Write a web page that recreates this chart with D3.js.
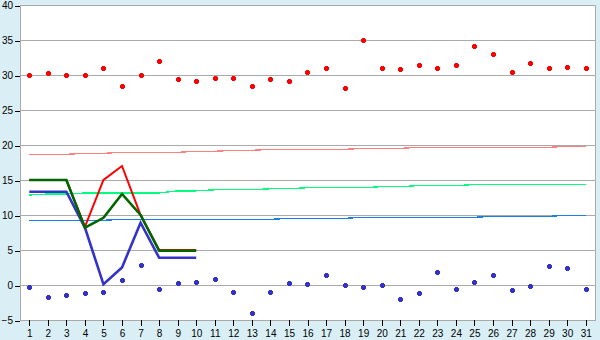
<!DOCTYPE html>
<html>
<head>
<meta charset="utf-8">
<script src="https://cdn.jsdelivr.net/npm/d3@7"></script>
<style>
  html, body { margin: 0; padding: 0; background: #d9eff5; }
  svg { display: block; }
</style>
</head>
<body>
<div class="chart"></div>
<script>
// 날짜 (x축)
const days = [1, 2, 3, 4, 5, 6, 7, 8, 9, 10, 11, 12, 13, 14, 15, 16, 17, 18, 19, 20, 21, 22, 23, 24, 25, 26, 27, 28, 29, 30, 31];
// y축 눈금
const yTicks = [-5, 0, 5, 10, 15, 20, 25, 30, 35, 40];

// 점 (빨강 / 파랑)
const redDots = [30, 30.3, 30, 30, 31, 28.4, 30, 32, 29.4, 29.1, 29.5, 29.5, 28.5, 29.4, 29.2, 30.4, 31, 28.1, 35, 31,
  30.8, 31.4, 31, 31.4, 34.2, 33, 30.4, 31.7, 31, 31.1, 31];
const blueDots = [-0.3, -1.75, -1.45, -1.2, -1.05, 0.7, 2.8, -0.6, 0.25, 0.4, 0.8, -1.05, -4.05, -1.05, 0.25, 0.1, 1.5, -0.05, -0.3, -0.05,
  -2.05, -1.2, 1.8, -0.5, 0.4, 1.4, -0.75, -0.2, 2.65, 2.4, -0.6];

// 가는 선 (1~31일)
const pinkLine = [18.67, 18.67, 18.67, 18.81, 18.81, 18.95, 18.95, 18.95, 18.95, 19.1, 19.1, 19.24, 19.24, 19.38, 19.38, 19.38, 19.38, 19.38,
  19.52, 19.52, 19.52, 19.67, 19.67, 19.67, 19.67, 19.67, 19.67, 19.67, 19.67, 19.81, 19.81];
const mintLine = [12.86, 13.0, 13.0, 13.14, 13.14, 13.14, 13.14, 13.14, 13.45, 13.45, 13.6, 13.6, 13.6, 13.75, 13.75, 13.9, 13.9, 13.9, 13.9,
  14.05, 14.05, 14.2, 14.2, 14.2, 14.35, 14.35, 14.35, 14.35, 14.35, 14.35, 14.35];
const skyLine = [9.24, 9.24, 9.24, 9.24, 9.24, 9.38, 9.38, 9.38, 9.38, 9.38, 9.38, 9.38, 9.38, 9.38, 9.52, 9.52, 9.52, 9.52,
  9.67, 9.67, 9.67, 9.67, 9.67, 9.67, 9.67, 9.81, 9.81, 9.81, 9.81, 9.95, 9.95];

// 굵은 선 (1~10일)
const redLine = [15, 15, 15, 8.3, 15, 17, 10, 5, 5, 5];
const blueLine = [13.33, 13.33, 13.33, 8.2, 0.1, 2.5, 8.9, 3.9, 3.9, 3.9];
const greenLine = [15, 15, 15, 8.2, 9.6, 13, 10, 4.9, 4.9, 4.9];

const W = 600, H = 340;
const plot = {left: 20, right: 595, top: 5, bottom: 320};

const x = d3.scaleBand(days, [plot.left, plot.right]);
const y = d3.scaleLinear([-5, 40], [plot.bottom, plot.top]);
const cx = d => x(d) + x.bandwidth() / 2;

const svg = d3.select('.chart').append('svg')
  .attr('width', W)
  .attr('height', H)
  .style('font-family', '"DejaVu Sans Condensed", "DejaVu Sans", sans-serif');

// 배경
svg.append('rect')
  .attr('width', W).attr('height', H)
  .attr('fill', '#d9eff5');
svg.append('rect')
  .attr('x', plot.left).attr('y', plot.top)
  .attr('width', plot.right - plot.left).attr('height', plot.bottom - plot.top)
  .attr('fill', '#fff');

// 눈금선
svg.append('g')
  .attr('shape-rendering', 'crispEdges')
  .selectAll('line')
  .data(yTicks)
  .join('line')
    .attr('x1', plot.left).attr('x2', plot.right)
    .attr('y1', d => Math.round(y(d)) + 0.5)
    .attr('y2', d => Math.round(y(d)) + 0.5)
    .attr('stroke', '#aaa');

// 테두리 (왼쪽, 오른쪽)
svg.append('path')
  .attr('d', `M${plot.left + 0.5},${plot.top}V${plot.bottom + 1}M${plot.right + 0.5},${plot.top}V${plot.bottom + 1}`)
  .attr('stroke', '#aaa')
  .attr('fill', 'none')
  .attr('shape-rendering', 'crispEdges');

// y축
svg.append('g')
  .attr('transform', `translate(${plot.left}, 0.5)`)
  .call(d3.axisLeft(y).tickValues(yTicks).tickSize(5).tickPadding(2))
  .call(g => g.select('.domain').remove())
  .call(g => g.selectAll('.tick line').attr('stroke', '#000').attr('shape-rendering', 'crispEdges'))
  .selectAll('text')
    .attr('font-size', '10px')
    .attr('fill', '#000');

// x축
svg.append('g')
  .attr('transform', `translate(0.5, ${plot.bottom})`)
  .call(d3.axisBottom(x).tickSize(6).tickPadding(4))
  .call(g => g.select('.domain').remove())
  .call(g => g.selectAll('.tick line').attr('stroke', '#000').attr('shape-rendering', 'crispEdges'))
  .selectAll('text')
    .attr('font-size', '10px')
    .attr('fill', '#000');

// 선 그리기
const line = d3.line()
  .x((d, i) => cx(days[i]))
  .y(d => y(d));

const thin = [
  {data: pinkLine, color: '#ff8080'},
  {data: mintLine, color: '#00ff80'},
  {data: skyLine, color: '#1a7fe6'}
];
svg.append('g')
  .selectAll('path')
  .data(thin)
  .join('path')
    .attr('d', d => line(d.data))
    .attr('fill', 'none')
    .attr('stroke', d => d.color)
    .attr('stroke-width', 1.3)
    .attr('shape-rendering', 'crispEdges');

const thick = [
  {data: blueLine, color: '#3333cc', w: 2.6},
  {data: redLine, color: '#ff0000', w: 2},
  {data: greenLine, color: '#006600', w: 2.6}
];
svg.append('g')
  .selectAll('path')
  .data(thick)
  .join('path')
    .attr('d', d => line(d.data))
    .attr('fill', 'none')
    .attr('stroke', d => d.color)
    .attr('stroke-width', d => d.w)
    .attr('stroke-linejoin', 'miter');

// 점 모양 (모서리 잘린 사각형)
const plusMark = {
  draw(ctx) {
    const a = 1.5, b = 2.5;
    ctx.moveTo(-a, -b); ctx.lineTo(a, -b); ctx.lineTo(a, -a); ctx.lineTo(b, -a);
    ctx.lineTo(b, a); ctx.lineTo(a, a); ctx.lineTo(a, b); ctx.lineTo(-a, b);
    ctx.lineTo(-a, a); ctx.lineTo(-b, a); ctx.lineTo(-b, -a); ctx.lineTo(-a, -a);
    ctx.closePath();
  }
};
const dotSets = [
  {data: redDots, color: '#ff0000'},
  {data: blueDots, color: '#3333cc'}
];
dotSets.forEach(s => {
  svg.append('g')
    .selectAll('path')
    .data(s.data)
    .join('path')
      .attr('transform', (d, i) => `translate(${Math.round(cx(days[i])) + 0.5}, ${Math.round(y(d)) + 0.5})`)
      .attr('d', d3.symbol(plusMark))
      .attr('fill', s.color)
      .attr('shape-rendering', 'crispEdges');
});
</script>
</body>
</html>
